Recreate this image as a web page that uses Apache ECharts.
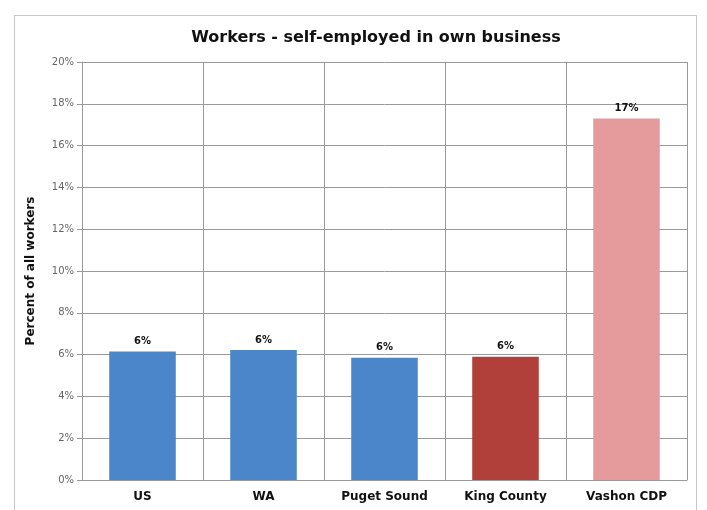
<!DOCTYPE html>
<html>
<head>
<meta charset="utf-8">
<script src="https://cdn.jsdelivr.net/npm/echarts@6/dist/echarts.min.js"></script>
<style>
  html, body { margin: 0; padding: 0; background: #fff; }
  #wrap { position: relative; width: 707px; height: 510px; overflow: hidden; }
  #frame { position: absolute; left: 14px; top: 15px; width: 683px; height: 520px; border: 1px solid #c8c8c8; box-sizing: border-box; }
  #chart { position: absolute; left: 0; top: 0; width: 707px; height: 510px; }
</style>
</head>
<body>
<div id="wrap">
  <div id="frame"></div>
  <div id="chart"></div>
</div>
<script>
// Share of workers who are self-employed in their own business
const categories = ['US', 'WA', 'Puget Sound', 'King County', 'Vashon CDP'];
const percentValues = [6.15, 6.22, 5.85, 5.9, 17.3];
const barColors = ['#4a86c9', '#4a86c9', '#4a86c9', '#b2403a', '#e59a9c'];
const yTicks = [0, 2, 4, 6, 8, 10, 12, 14, 16, 18, 20];

const chart = echarts.init(document.getElementById('chart'), null, { renderer: 'canvas' });

chart.setOption({
  backgroundColor: 'transparent',
  animation: false,
  title: {
    text: 'Workers - self-employed in own business',
    left: 371,
    top: 25,
    textAlign: 'center',
    textStyle: { fontFamily: 'DejaVu Sans', fontSize: 16, fontWeight: 'bold', color: '#111' }
  },
  grid: { left: 82, right: 20, top: 62, bottom: 30 },
  xAxis: {
    type: 'category',
    data: categories,
    boundaryGap: true,
    axisLine: { lineStyle: { color: '#9a9a9a', width: 1 } },
    axisTick: { show: false },
    splitLine: { show: true, lineStyle: { color: '#9a9a9a', width: 1 } },
    axisLabel: {
      interval: 0,
      margin: 11,
      fontFamily: 'DejaVu Sans',
      fontSize: 12,
      fontWeight: 'bold',
      color: '#111'
    }
  },
  yAxis: {
    type: 'value',
    min: yTicks[0],
    max: yTicks[yTicks.length - 1],
    interval: 2,
    name: 'Percent of all workers',
    nameLocation: 'middle',
    nameGap: 45,
    nameRotate: 90,
    nameTextStyle: { fontFamily: 'DejaVu Sans', fontSize: 12, fontWeight: 'bold', color: '#111' },
    axisLine: { show: true, lineStyle: { color: '#9a9a9a', width: 1 } },
    axisTick: { show: true, length: 5, inside: false, lineStyle: { color: '#9a9a9a' } },
    splitLine: { show: true, lineStyle: { color: '#9a9a9a', width: 1 } },
    axisLabel: {
      margin: 8,
      fontFamily: 'DejaVu Sans',
      fontSize: 10,
      color: '#666',
      formatter: v => v + '%'
    }
  },
  series: [{
    type: 'bar',
    data: percentValues.map((v, i) => ({ value: v, itemStyle: { color: barColors[i] } })),
    barCategoryGap: '45%',
    label: {
      show: true,
      position: 'top',
      distance: 5,
      fontFamily: 'DejaVu Sans',
      fontSize: 10,
      fontWeight: 'bold',
      color: '#111',
      formatter: p => Math.round(p.value) + '%'
    }
  }]
});
</script>
</body>
</html>
